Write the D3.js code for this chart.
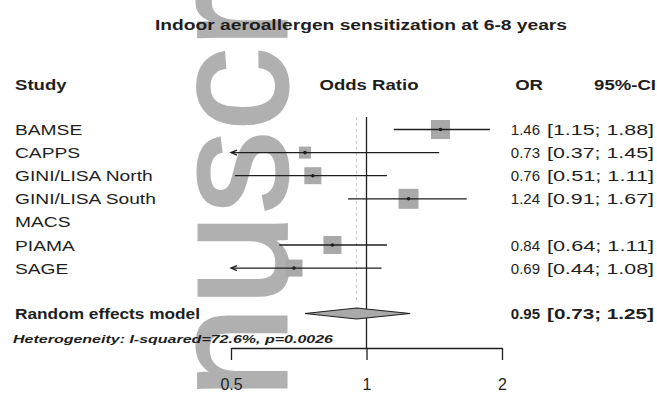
<!DOCTYPE html>
<html>
<head>
<meta charset="utf-8">
<script src="https://cdn.jsdelivr.net/npm/d3@7"></script>
<style>
  html, body { margin: 0; padding: 0; background: #fff; }
  svg { display: block; font-family: "Liberation Sans", Arial, Helvetica, sans-serif; }
</style>
</head>
<body>
<svg id="chart" width="657" height="396"></svg>
<script>
// ---- data ----
const title = "Indoor aeroallergen sensitization at 6-8 years";
const studies = ["BAMSE", "CAPPS", "GINI/LISA North", "GINI/LISA South", "MACS", "PIAMA", "SAGE"];
const oddsRatios = [1.46, 0.73, 0.76, 1.24, null, 0.84, 0.69];
const ciLower = [1.15, 0.37, 0.51, 0.91, null, 0.64, 0.44];
const ciUpper = [1.88, 1.45, 1.11, 1.67, null, 1.11, 1.08];
const weights = [20.0, 8.0, 16.0, 22.1, null, 17.9, 16.0];   // random-effects weights (%)
const pooledLabel = "Random effects model";
const pooledOR = 0.95;
const pooledCI = [0.73, 1.25];
const heterogeneityText = "Heterogeneity: I-squared=72.6%, p=0.0026";
const headers = ["Study", "Odds Ratio", "OR", "95%-CI"];
const axisTicks = [0.5, 1, 2];
const watermark = "manuscript";

// ---- layout ----
const svg = d3.select("#chart");
const ink = "#1e1e1e";
const stretch = 1.28;            // horizontal widening of the label type

const x = d3.scaleLog().domain([0.5, 2]).range([231, 502]);
const y = d3.scaleLinear().domain([0, studies.length - 1]).range([129.5, 268.1]);
const boxSize = d3.scaleSqrt().domain([0, d3.max(weights)]).range([0, 20]);
const fmt = d3.format(".2f");
const axisY = 348;
const pooledY = 313.5;

function widen(sel, f) {
  sel.each(function () {
    const w = this.getComputedTextLength();
    d3.select(this).attr("textLength", w * f).attr("lengthAdjust", "spacingAndGlyphs");
  });
  return sel;
}

// background watermark lettering
svg.append("text")
  .attr("transform", "translate(286,629) rotate(-90)")
  .attr("font-size", 166)
  .attr("fill", "#b0b0b0")
  .attr("stroke", "#b0b0b0").attr("stroke-width", 3)
  .text(watermark);

// title
svg.append("text")
  .attr("x", 361).attr("y", 30)
  .attr("text-anchor", "middle")
  .attr("font-size", 14).attr("font-weight", "bold")
  .attr("fill", ink)
  .attr("textLength", 412).attr("lengthAdjust", "spacingAndGlyphs")
  .text(title);

// column headers
const headerPos = [
  { x: 15, anchor: "start" },
  { x: 369, anchor: "middle" },
  { x: 543, anchor: "end" },
  { x: 656, anchor: "end" }
];
headers.forEach((h, i) => {
  svg.append("text")
    .attr("x", headerPos[i].x).attr("y", 90)
    .attr("text-anchor", headerPos[i].anchor)
    .attr("font-size", 14.5).attr("font-weight", "bold")
    .attr("fill", ink)
    .text(h)
    .call(widen, stretch);
});

// dashed line at the pooled estimate
svg.append("line")
  .attr("x1", x(pooledOR)).attr("x2", x(pooledOR))
  .attr("y1", 117).attr("y2", 300)
  .attr("stroke", "#c8c8c8").attr("stroke-width", 1)
  .attr("stroke-dasharray", "3,3");

// line of no effect
svg.append("line")
  .attr("x1", x(1)).attr("x2", x(1))
  .attr("y1", 117).attr("y2", axisY)
  .attr("stroke", ink).attr("stroke-width", 1.3);

// study labels
svg.append("g").selectAll("text")
  .data(studies)
  .join("text")
  .attr("x", 15)
  .attr("y", (d, i) => y(i) + 5.5)
  .attr("font-size", 15)
  .attr("fill", ink)
  .text(d => d)
  .call(widen, stretch);

// study rows with estimates
const rows = studies.map((s, i) => ({
  i, or: oddsRatios[i], lo: ciLower[i], hi: ciUpper[i], w: weights[i]
})).filter(d => d.or != null);

const [dMin, dMax] = x.domain();
const marks = svg.append("g");

// weight boxes
marks.selectAll("rect.box")
  .data(rows)
  .join("rect")
  .attr("class", "box")
  .attr("x", d => x(d.or) - boxSize(d.w) / 2)
  .attr("y", d => y(d.i) - boxSize(d.w) / 2)
  .attr("width", d => boxSize(d.w))
  .attr("height", d => boxSize(d.w))
  .attr("fill", "#a9a9a9");

// confidence intervals (clipped to the axis range)
marks.selectAll("line.ci")
  .data(rows)
  .join("line")
  .attr("class", "ci")
  .attr("x1", d => x(Math.max(d.lo, dMin)))
  .attr("x2", d => x(Math.min(d.hi, dMax)))
  .attr("y1", d => y(d.i)).attr("y2", d => y(d.i))
  .attr("stroke", ink).attr("stroke-width", 1.3);

// arrow heads where an interval leaves the axis range
marks.selectAll("path.arrow")
  .data(rows.filter(d => d.lo < dMin))
  .join("path")
  .attr("class", "arrow")
  .attr("d", d => {
    const ax = x(dMin), ay = y(d.i);
    return `M${ax + 6},${ay - 2.5}L${ax},${ay}L${ax + 6},${ay + 2.5}`;
  })
  .attr("fill", "none").attr("stroke", ink).attr("stroke-width", 1.3);

// point estimates
marks.selectAll("circle.pt")
  .data(rows)
  .join("circle")
  .attr("class", "pt")
  .attr("cx", d => x(d.or)).attr("cy", d => y(d.i))
  .attr("r", 1.8)
  .attr("fill", ink);

// OR and CI columns
const numbers = svg.append("g").attr("font-size", 15).attr("fill", ink);
numbers.selectAll("text.or")
  .data(rows)
  .join("text")
  .attr("class", "or")
  .attr("x", 540).attr("y", d => y(d.i) + 5.5)
  .attr("text-anchor", "end")
  .text(d => fmt(d.or));
numbers.selectAll("text.ci")
  .data(rows)
  .join("text")
  .attr("class", "ci")
  .attr("x", 547).attr("y", d => y(d.i) + 5.5)
  .attr("textLength", 107).attr("lengthAdjust", "spacingAndGlyphs")
  .text(d => `[${fmt(d.lo)}; ${fmt(d.hi)}]`);

// pooled estimate
svg.append("text")
  .attr("x", 15).attr("y", pooledY + 5.5)
  .attr("font-size", 15).attr("font-weight", "bold")
  .attr("fill", ink)
  .text(pooledLabel)
  .call(widen, 1.15);

svg.append("path")
  .attr("d", () => {
    const l = x(pooledCI[0]), r = x(pooledCI[1]), c = x(pooledOR), h = 5.5;
    return `M${l},${pooledY}L${c},${pooledY - h}L${r},${pooledY}L${c},${pooledY + h}Z`;
  })
  .attr("fill", "#a9a9a9").attr("stroke", ink).attr("stroke-width", 1.2);

svg.append("text")
  .attr("x", 540).attr("y", pooledY + 5.5)
  .attr("text-anchor", "end")
  .attr("font-size", 15).attr("font-weight", "bold").attr("fill", ink)
  .text(fmt(pooledOR));
svg.append("text")
  .attr("x", 547).attr("y", pooledY + 5.5)
  .attr("font-size", 15).attr("font-weight", "bold").attr("fill", ink)
  .attr("textLength", 107).attr("lengthAdjust", "spacingAndGlyphs")
  .text(`[${fmt(pooledCI[0])}; ${fmt(pooledCI[1])}]`);

// heterogeneity note
svg.append("text")
  .attr("x", 13).attr("y", 343)
  .attr("font-size", 11).attr("font-weight", "bold").attr("font-style", "italic")
  .attr("fill", ink)
  .attr("textLength", 320).attr("lengthAdjust", "spacingAndGlyphs")
  .text(heterogeneityText);

// x axis
const axis = d3.axisBottom(x)
  .tickValues(axisTicks)
  .tickFormat(d3.format(""))
  .tickSizeOuter(0)
  .tickSizeInner(12)
  .tickPadding(19);

const ax = svg.append("g")
  .attr("transform", `translate(0,${axisY})`)
  .call(axis);
ax.select(".domain").attr("stroke", ink).attr("stroke-width", 1.3);
ax.selectAll(".tick line").attr("stroke", ink).attr("stroke-width", 1.3);
ax.selectAll(".tick text")
  .attr("font-size", 16)
  .attr("font-family", "\"Liberation Sans\", Arial, sans-serif")
  .attr("fill", ink);
</script>
</body>
</html>
